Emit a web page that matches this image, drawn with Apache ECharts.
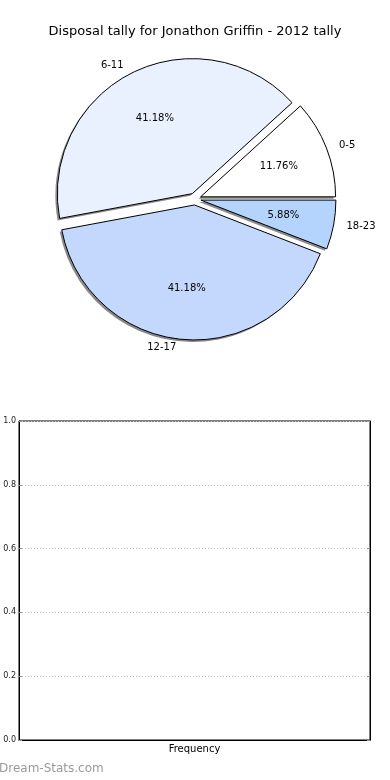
<!DOCTYPE html>
<html>
<head>
<meta charset="utf-8">
<script src="https://cdn.jsdelivr.net/npm/echarts@6/dist/echarts.min.js"></script>
<style>
html,body{margin:0;padding:0;background:#fff;}
#chart{width:390px;height:780px;}
</style>
</head>
<body>
<div id="chart"></div>
<script>
const titleText = 'Disposal tally for Jonathon Griffin - 2012 tally';
const pieCategories = ['0-5', '6-11', '12-17', '18-23'];
const pieCounts = [2, 7, 7, 1];
const pieColors = ['#ffffff', '#e9f0fe', '#c4d8fe', '#b4d4fe'];
const histValues = [];
const yMin = 0, yMax = 1, yInterval = 0.2;
const xAxisName = 'Frequency';
const watermark = 'Dream-Stats.com';

const FONT = 'DejaVu Sans';
const R = 135;
const CENTER = [195, 199];
const SHADOW_CENTER = [CENTER[0] - 2, CENTER[1] + 2];

const mk = (withColor) => pieCategories.map((c, i) => {
  const d = { name: c, value: pieCounts[i], selected: true };
  if (withColor) d.itemStyle = { color: pieColors[i] };
  return d;
});

const pieCommon = {
  type: 'pie', startAngle: 0, clockwise: false,
  selectedMode: 'multiple', selectedOffset: 6,
  avoidLabelOverlap: false, emphasis: { disabled: true }
};

const chart = echarts.init(document.getElementById('chart'), null, { renderer: 'canvas' });
chart.setOption({
  animation: false,
  backgroundColor: '#ffffff',
  title: {
    text: titleText, left: 'center', top: 20,
    textStyle: { fontFamily: FONT, fontSize: 13, fontWeight: 'normal', color: '#000' }
  },
  graphic: [{
    type: 'text', left: -1, top: 763,
    style: { text: watermark, fontFamily: FONT, fontSize: 12, fontWeight: 'normal', fill: '#9a9a9a' }
  }],
  grid: {
    left: 19, right: 20, top: 421, bottom: 40,
    show: true, borderColor: '#000', borderWidth: 1, backgroundColor: 'transparent'
  },
  xAxis: {
    type: 'value', min: 0, max: 1,
    name: xAxisName, nameLocation: 'middle', nameGap: 4,
    nameTextStyle: { fontFamily: FONT, fontSize: 10, color: '#000', verticalAlign: 'top' },
    axisLine: { show: true, lineStyle: { color: '#000' } },
    axisTick: { show: false }, axisLabel: { show: false }, splitLine: { show: false }
  },
  yAxis: [{
    type: 'value', min: yMin, max: yMax, interval: yInterval,
    axisLine: { show: true, lineStyle: { color: '#000' } },
    axisTick: { show: true, inside: true, length: 3, lineStyle: { color: '#999' } },
    axisLabel: { fontFamily: FONT, fontSize: 8, color: '#222', margin: 3, formatter: v => v.toFixed(1) },
    splitLine: { show: true, lineStyle: { color: '#c0c0c0', type: [1, 2], width: 1 } }
  }, {
    type: 'value', min: yMin, max: yMax, interval: yInterval, position: 'right',
    axisLine: { show: true, lineStyle: { color: '#000' } },
    axisTick: { show: true, inside: true, length: 3, lineStyle: { color: '#999' } },
    axisLabel: { show: false }, splitLine: { show: false }
  }],
  series: [Object.assign({}, pieCommon, {
    radius: R, center: SHADOW_CENTER, silent: true,
    itemStyle: { color: '#8a8a8a', borderWidth: 0 },
    label: { show: false }, labelLine: { show: false },
    data: mk(false)
  }), Object.assign({}, pieCommon, {
    radius: R, center: CENTER,
    itemStyle: { borderColor: '#000', borderWidth: 1 },
    label: {
      show: true, position: 'outside', formatter: '{b}',
      fontFamily: FONT, fontSize: 10, color: '#000', distanceToLabelLine: 5
    },
    labelLine: { show: false, length: 8, length2: 0 },
    data: mk(true)
  }), Object.assign({}, pieCommon, {
    radius: R * 1.2, center: CENTER, silent: true,
    itemStyle: { color: 'transparent', borderWidth: 0 },
    label: {
      show: true, position: 'inside', formatter: '{d}%',
      fontFamily: FONT, fontSize: 10, color: '#000'
    },
    labelLine: { show: false },
    data: mk(false)
  }), {
    type: 'bar', data: histValues, xAxisIndex: 0, yAxisIndex: 0
  }]
});
</script>
</body>
</html>
